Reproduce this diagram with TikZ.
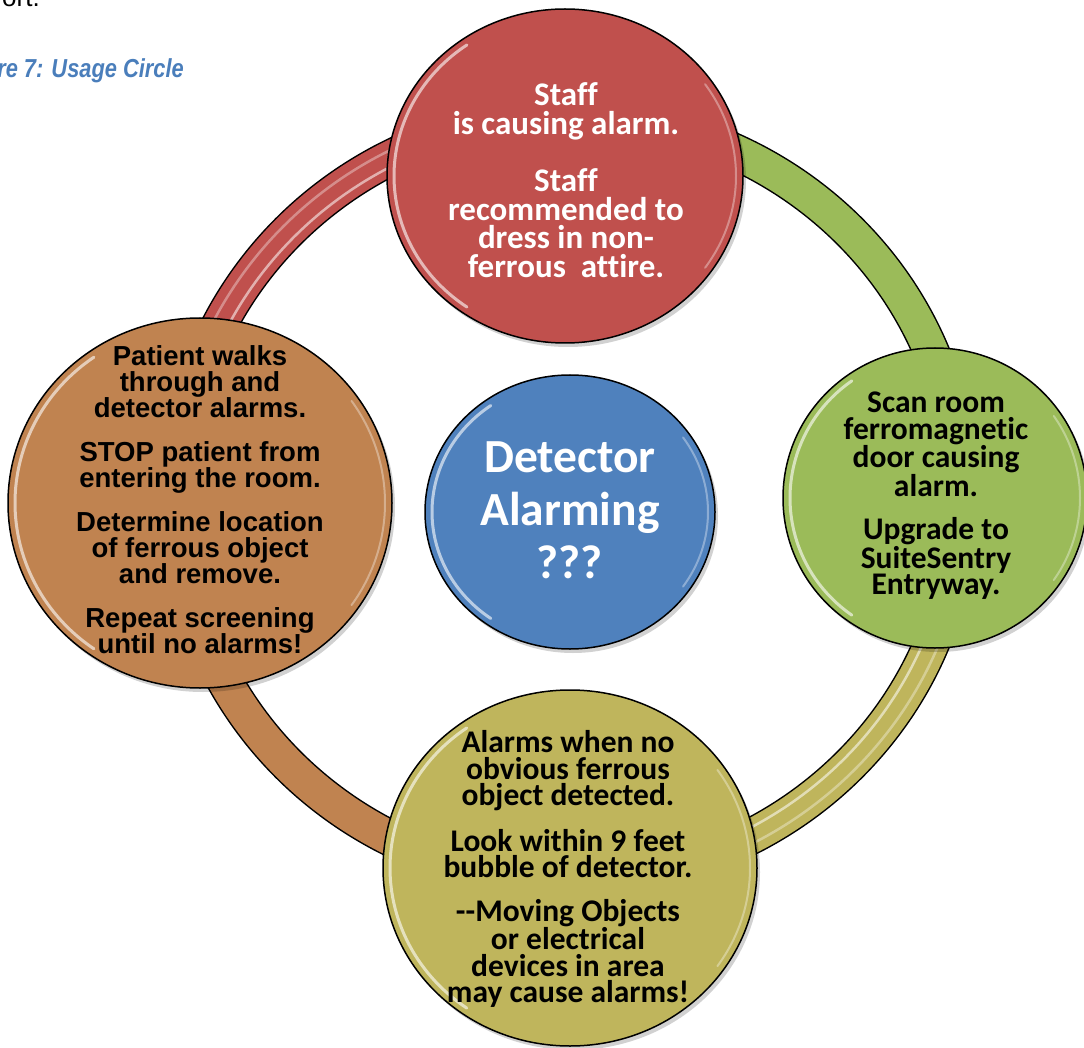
\documentclass[tikz,border=0pt]{standalone}
\usepackage{fontspec}
\setmainfont{Carlito}[Ligatures={NoCommon}]
\newfontfamily\arialf{Liberation Sans}
\usetikzlibrary{shapes.geometric}
\definecolor{cred}{HTML}{C0504D}
\definecolor{cgreen}{HTML}{9BBB59}
\definecolor{cyellow}{HTML}{BFB55C}
\definecolor{corange}{HTML}{C08350}
\definecolor{cblue}{HTML}{4F81BD}
\definecolor{capblue}{HTML}{4A7EBB}
\newcommand\myrim[3]{%
  \draw[rimhl] ([shift={(125:#2-7 and #3-7)}]#1.center) arc[start angle=125,end angle=235,x radius=#2-7,y radius=#3-7];
  \draw[rimhl2] ([shift={(-35:#2-7 and #3-7)}]#1.center) arc[start angle=-35,end angle=35,x radius=#2-7,y radius=#3-7];}
\begin{document}
\begin{tikzpicture}[x=1pt,y=-1pt,
  bub/.style={ellipse, draw=black, line width=1.5pt, inner sep=0pt},
  ringout/.style={line width=37pt, draw=black},
  ringin/.style={line width=34pt},
  ringhl/.style={line width=2.5pt, draw=white, opacity=0.55},
  rimhl/.style={line width=3pt, draw=white, opacity=0.6, line cap=round},
  rimhl2/.style={line width=2pt, draw=white, opacity=0.35, line cap=round},
  shad/.style={fill=black, opacity=0.18},
  txt/.style={align=center, inner sep=0pt}]
\useasboundingbox (0,0) rectangle (1084,1048);
\clip (0,0) rectangle (1084,1048);
% header text
\node[anchor=base east, inner sep=0pt, font=\arialf\fontsize{26}{30}\selectfont] (prev) at (40,7) {ort.};
\node[anchor=base east, inner sep=0pt, text=capblue, xscale=0.84, font=\arialf\bfseries\itshape\fontsize{26}{30}\selectfont] (cap) at (184,78) {re 7: Usage Circle};
% ring
\coordinate (ringc) at (569,498);
\coordinate (rT) at ([shift={(-90:392 and 382)}]ringc);
\coordinate (rR) at ([shift={(0:392 and 382)}]ringc);
\coordinate (rB) at ([shift={(90:392 and 382)}]ringc);
\coordinate (rL) at ([shift={(180:392 and 382)}]ringc);
\draw[ringout] (rL) arc[start angle=180,end angle=270,x radius=392,y radius=382];
\draw[ringout] (rT) arc[start angle=270,end angle=360,x radius=392,y radius=382];
\draw[ringout] (rR) arc[start angle=0,end angle=90,x radius=392,y radius=382];
\draw[ringout] (rB) arc[start angle=90,end angle=180,x radius=392,y radius=382];
\draw[ringin, draw=cred] (rL) arc[start angle=180,end angle=270,x radius=392,y radius=382];
\draw[ringin, draw=cgreen] (rT) arc[start angle=270,end angle=360,x radius=392,y radius=382];
\draw[ringin, draw=cyellow] (rR) arc[start angle=0,end angle=90,x radius=392,y radius=382];
\draw[ringin, draw=corange] (rB) arc[start angle=90,end angle=180,x radius=392,y radius=382];
% highlights on red and yellow arcs
\draw[ringhl] ([shift={(180:384 and 374)}]ringc) arc[start angle=180,end angle=270,x radius=384,y radius=374];
\draw[ringhl, opacity=0.35] ([shift={(180:399 and 389)}]ringc) arc[start angle=180,end angle=270,x radius=399,y radius=389];
\draw[ringhl] ([shift={(0:384 and 374)}]ringc) arc[start angle=0,end angle=90,x radius=384,y radius=374];
\draw[ringhl, opacity=0.35] ([shift={(0:399 and 389)}]ringc) arc[start angle=0,end angle=90,x radius=399,y radius=389];
% shadows
\fill[shad] (568,180) ellipse[x radius=178, y radius=167];
\fill[shad] (938,502) ellipse[x radius=152, y radius=150];
\fill[shad] (573,872) ellipse[x radius=187, y radius=178];
\fill[shad] (203,507) ellipse[x radius=192, y radius=185];
\fill[shad] (573,516) ellipse[x radius=145, y radius=137];
% circles
\node[bub, fill=cred, minimum width=356pt, minimum height=334pt] (top) at (565,176) {};
\node[bub, fill=cgreen, minimum width=304pt, minimum height=300pt] (right) at (935,498) {};
\node[bub, fill=cyellow, minimum width=374pt, minimum height=356pt] (bottom) at (570,868) {};
\node[bub, fill=corange, minimum width=384pt, minimum height=370pt] (left) at (200,503) {};
\node[bub, fill=cblue, minimum width=290pt, minimum height=274pt] (center) at (570,512) {};
\myrim{top}{178}{167}
\myrim{right}{152}{150}
\myrim{bottom}{187}{178}
\myrim{left}{192}{185}
\myrim{center}{145}{137}
% texts
\node[txt, text=white, font=\bfseries\fontsize{33}{28.5}\selectfont] (tTop) at (566,180)
  {Staff\\is causing alarm.\\[28pt]Staff\\recommended to\\dress in non-\\ferrous\ \ attire.};
\node[txt, font=\bfseries\fontsize{31.5}{26.5}\selectfont] (tRight) at (936,496)
  {Scan room\\ferromagnetic\\door causing\\alarm.\\[17pt]Upgrade to\\SuiteSentry\\Entryway.};
\node[txt, font=\bfseries\fontsize{31.5}{26.5}\selectfont] (tBottom) at (568,869)
  {Alarms when no\\obvious ferrous\\object detected.\\[17pt]Look within 9 feet\\bubble of detector.\\[17pt]-{}-Moving Objects\\or electrical\\devices in area\\may cause alarms!};
\node[txt, font=\arialf\bfseries\fontsize{27.5}{26}\selectfont] (tLeft) at (200,500)
  {Patient walks\\through and\\detector alarms.\\[18pt]STOP patient from\\entering the room.\\[18pt]Determine location\\of ferrous object\\and remove.\\[18pt]Repeat screening\\until no alarms!};
\node[txt, text=white, font=\bfseries\fontsize{47.5}{53}\selectfont] (tCenter) at (570,510)
  {Detector\\Alarming\\???};
\end{tikzpicture}
\end{document}
